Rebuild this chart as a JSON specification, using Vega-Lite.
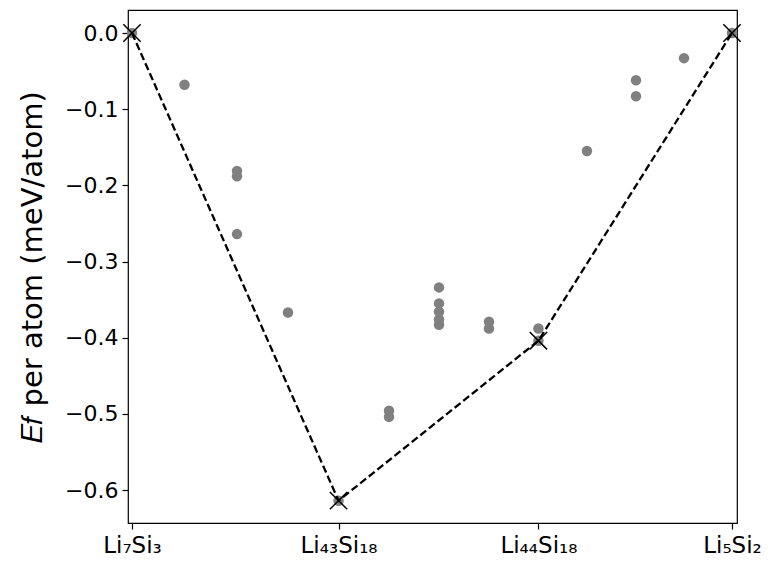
{
  "$schema": "https://vega.github.io/schema/vega-lite/v6.json",
  "autosize": "none",
  "width": 609,
  "height": 513,
  "padding": {"left": 128, "top": 10, "right": 31, "bottom": 41},
  "background": "white",
  "config": {
    "view": {"stroke": "black", "strokeWidth": 1.2},
    "axis": {"domain": false, "grid": false, "labelFont": "DejaVu Sans", "titleFont": "DejaVu Sans", "labelColor": "black", "titleColor": "black", "tickColor": "black", "tickSize": 6, "tickWidth": 1.2, "labelFontSize": 22, "titleFontWeight": "normal"}
  },
  "data": {
    "values": [
      {"x": 0.7, "y": 0.0, "kind": "hull"},
      {"x": 0.704918, "y": -0.614, "kind": "hull"},
      {"x": 0.709677, "y": -0.404, "kind": "hull"},
      {"x": 0.714286, "y": 0.0, "kind": "hull"},
      {"x": 0.70125, "y": -0.068, "kind": "other"},
      {"x": 0.7025, "y": -0.181, "kind": "other"},
      {"x": 0.7025, "y": -0.188, "kind": "other"},
      {"x": 0.7025, "y": -0.264, "kind": "other"},
      {"x": 0.703714, "y": -0.367, "kind": "other"},
      {"x": 0.706119, "y": -0.496, "kind": "other"},
      {"x": 0.706119, "y": -0.504, "kind": "other"},
      {"x": 0.70731, "y": -0.334, "kind": "other"},
      {"x": 0.70731, "y": -0.355, "kind": "other"},
      {"x": 0.70731, "y": -0.366, "kind": "other"},
      {"x": 0.70731, "y": -0.376, "kind": "other"},
      {"x": 0.70731, "y": -0.383, "kind": "other"},
      {"x": 0.7085, "y": -0.379, "kind": "other"},
      {"x": 0.7085, "y": -0.388, "kind": "other"},
      {"x": 0.709677, "y": -0.388, "kind": "other"},
      {"x": 0.710833, "y": -0.155, "kind": "other"},
      {"x": 0.712, "y": -0.062, "kind": "other"},
      {"x": 0.712, "y": -0.083, "kind": "other"},
      {"x": 0.713143, "y": -0.033, "kind": "other"}
    ]
  },
  "encoding": {
    "x": {
      "field": "x", "type": "quantitative",
      "scale": {"domain": [0.699905, 0.714405], "nice": false, "zero": false},
      "axis": {
        "title": null,
        "values": [0.7, 0.704918, 0.709677, 0.714286],
        "labelExpr": "datum.value < 0.702 ? 'Li₇Si₃' : datum.value < 0.707 ? 'Li₄₃Si₁₈' : datum.value < 0.712 ? 'Li₄₄Si₁₈' : 'Li₅Si₂'",
        "labelPadding": 5,
        "labelFontSize": 23,
        "labelFlush": false,
        "labelOverlap": false
      }
    },
    "y": {
      "field": "y", "type": "quantitative",
      "scale": {"domain": [-0.6433, 0.0302], "nice": false, "zero": false},
      "axis": {
        "title": "𝐸𝑓 per atom (meV/atom)",
        "titleFontSize": 29,
        "titlePadding": 17,
        "values": [-0.6, -0.5, -0.4, -0.3, -0.2, -0.1, 0.0],
        "format": ".1f",
        "labelPadding": 4,
        "labelFontSize": 22
      }
    }
  },
  "layer": [
    {
      "mark": {"type": "circle", "color": "#808080", "opacity": 1, "size": 110}
    },
    {
      "transform": [{"filter": "datum.kind === 'hull'"}],
      "mark": {"type": "line", "color": "black", "strokeWidth": 2.3, "strokeDash": [7.5, 3.5]},
      "encoding": {"order": {"field": "x", "type": "quantitative"}}
    },
    {
      "transform": [{"filter": "datum.kind === 'hull'"}],
      "mark": {"type": "point", "shape": "M-1,-1L1,1M-1,1L1,-1", "filled": false, "stroke": "black", "strokeWidth": 1.5, "opacity": 1, "size": 300}
    }
  ]
}
